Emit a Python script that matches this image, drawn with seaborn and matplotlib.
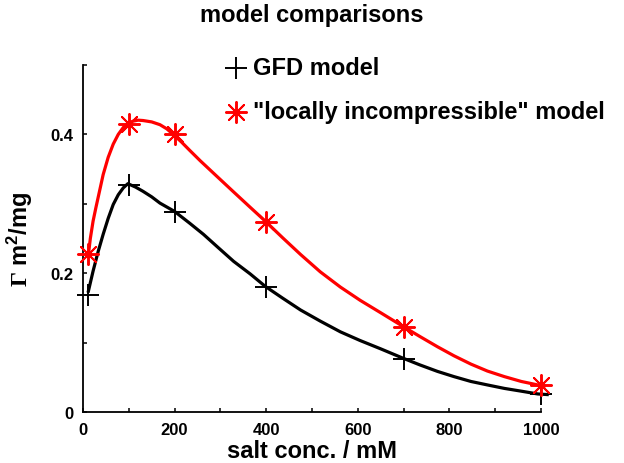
import matplotlib
matplotlib.use("Agg")
import matplotlib.pyplot as plt
import seaborn as sns
import pandas as pd
from matplotlib.ticker import MultipleLocator

# measured points
salt = [10, 100, 200, 400, 700, 1000]
gfd_pts = [0.168, 0.3275, 0.288, 0.180, 0.077, 0.026]
inc_pts = [0.2275, 0.4145, 0.401, 0.274, 0.123, 0.039]

# model curves
gfd_curve_x = [11, 22, 33, 44, 55, 66, 77, 88, 98, 115, 131, 150, 168, 200, 233, 263, 295, 329,
               365, 398, 436, 475, 518, 562, 605, 650, 697, 735, 774, 810, 847, 883, 920, 957, 993, 1017]
gfd_curve_y = [0.172, 0.203, 0.231, 0.256, 0.279, 0.299, 0.313, 0.323, 0.329, 0.324, 0.318, 0.310,
               0.301, 0.289, 0.272, 0.256, 0.237, 0.217, 0.199, 0.181, 0.164, 0.147, 0.131,
               0.1155, 0.103, 0.091, 0.078, 0.068, 0.0585, 0.051, 0.044, 0.039, 0.034, 0.030,
               0.026, 0.025]
inc_curve_x = [11, 16, 22, 28, 33, 44, 55, 66, 77, 88, 98, 109, 120, 131, 150, 168, 183, 197, 215, 233,
               256, 290, 329, 365, 398, 436, 475, 518, 562, 605, 650, 697, 735, 774, 810, 847, 883,
               920, 957, 993, 1010]
inc_curve_y = [0.222, 0.250, 0.275, 0.294, 0.309, 0.342, 0.367, 0.386, 0.400, 0.410, 0.416, 0.419,
               0.4205, 0.420, 0.418, 0.414, 0.408, 0.400, 0.389, 0.377, 0.362, 0.341, 0.317, 0.295,
               0.275, 0.251, 0.227, 0.202, 0.180, 0.161, 0.143, 0.124, 0.109, 0.094, 0.081,
               0.069, 0.059, 0.051, 0.044, 0.039, 0.037]

labels = ["GFD model", '"locally incompressible" model']
title = "model comparisons"
xlabel = "salt conc. / mM"

sns.set_style("white")
plt.rcParams['font.family'] = ['Liberation Sans', 'DejaVu Sans']
plt.rcParams['font.weight'] = 'bold'
plt.rcParams['text.color'] = 'black'
plt.rcParams['axes.labelcolor'] = 'black'
plt.rcParams['xtick.color'] = 'black'
plt.rcParams['ytick.color'] = 'black'
plt.rcParams['mathtext.fontset'] = 'custom'
plt.rcParams['mathtext.rm'] = 'Liberation Serif'
plt.rcParams['mathtext.bf'] = 'Liberation Sans:bold'

fig = plt.figure(figsize=(6.24, 4.64), dpi=100)
ax = fig.add_axes([83/624, 51/464, 458/624, 347/464])

gfd_c = pd.DataFrame({"x": gfd_curve_x, "y": gfd_curve_y})
inc_c = pd.DataFrame({"x": inc_curve_x, "y": inc_curve_y})
sns.lineplot(data=gfd_c, x="x", y="y", ax=ax, color="black", lw=2.3, sort=True, clip_on=False,
             solid_joinstyle="round", solid_capstyle="butt")
sns.lineplot(data=inc_c, x="x", y="y", ax=ax, color="red", lw=2.3, sort=True, clip_on=False,
             solid_joinstyle="round", solid_capstyle="butt")

pts = pd.DataFrame({"x": salt, "gfd": gfd_pts, "inc": inc_pts})
sns.scatterplot(data=pts, x="x", y="gfd", ax=ax, marker="+", s=230, color="black",
                linewidth=1.4, clip_on=False, zorder=5, label=labels[0])
sns.scatterplot(data=pts, x="x", y="inc", ax=ax, marker=(8, 2, 0), s=230, color="red",
                edgecolor="red", linewidth=1.4, clip_on=False, zorder=5, label=labels[1])

ax.set_xlim(0, 1000)
ax.set_ylim(0, 0.5)
ax.xaxis.set_major_locator(MultipleLocator(200))
ax.xaxis.set_minor_locator(MultipleLocator(100))
ax.set_yticks([0, 0.2, 0.4])
ax.set_yticklabels(["0", "0.2", "0.4"])
ax.yaxis.set_minor_locator(MultipleLocator(0.1))
ax.tick_params(which="both", direction="in", length=3, width=1.1, labelsize=12, pad=7,
               bottom=True, left=True, top=False, right=False, colors="black")
for lab in ax.get_xticklabels() + ax.get_yticklabels():
    lab.set_fontweight("bold")
for s in ["top", "right"]:
    ax.spines[s].set_visible(False)
for s in ["left", "bottom"]:
    ax.spines[s].set_color("black")
    ax.spines[s].set_linewidth(1.3)

ax.set_xlabel(xlabel, fontsize=17, fontweight="bold", labelpad=2)
ax.set_ylabel(r"$\mathrm{\Gamma}$ $\mathbf{m^2/mg}$", fontsize=17, labelpad=11)
fig.text(0.5, 1 - 22/464, title, ha="center", va="baseline", fontsize=17, fontweight="bold")

leg = ax.legend(loc="upper left", bbox_to_anchor=(227/624, 1 - 57/464),
                bbox_transform=fig.transFigure, frameon=False, fontsize=17,
                handlelength=0.8, handletextpad=0.3, labelspacing=0.88,
                borderpad=0, borderaxespad=0)
for t in leg.get_texts():
    t.set_fontweight("bold")

fig.savefig("out.png", dpi=100)
